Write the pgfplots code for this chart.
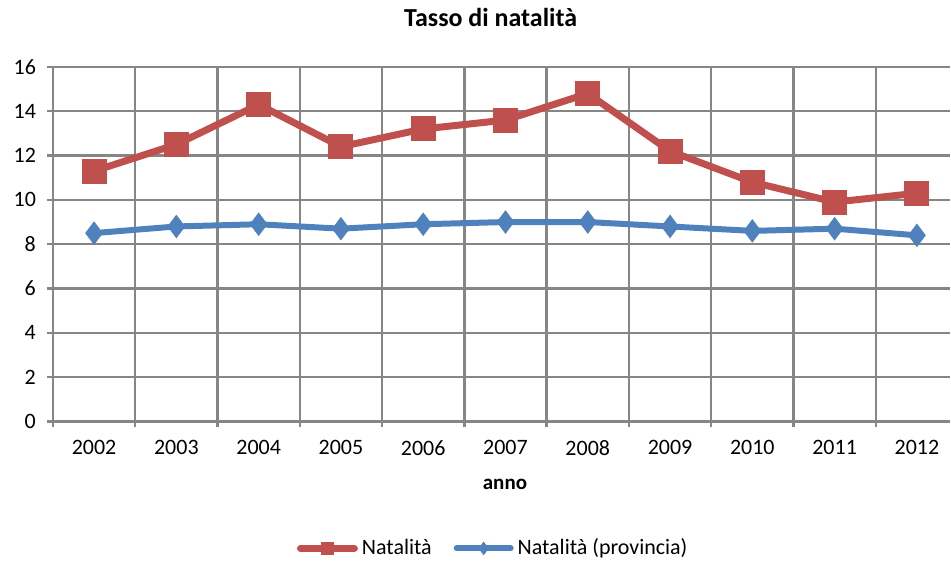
\documentclass[border=0pt]{standalone}
\usepackage{pgfplots}
\pgfplotsset{compat=1.18}
\usepackage{fontspec}
\setmainfont{Carlito}
\definecolor{cred}{RGB}{192,80,77}
\definecolor{cblue}{RGB}{79,129,189}
\definecolor{cgrid}{RGB}{134,134,134}
\begin{document}
\begin{tikzpicture}
\begin{axis}[
  scale only axis,
  width=449pt, height=177.5pt,
  xmin=-0.5, xmax=10.4,
  ymin=0, ymax=16,
  xtick={0,...,10},
  xticklabels={2002,2003,2004,2005,2006,2007,2008,2009,2010,2011,2012},
  minor xtick={-0.5,0.5,...,9.5},
  ytick={0,2,...,16},
  axis lines=left,
  axis line style={-, draw=cgrid, line width=1.2pt},
  ymajorgrids, xminorgrids,
  grid style={draw=cgrid, line width=1.2pt},
  minor grid style={draw=cgrid, line width=1.2pt},
  tick align=outside,
  major x tick style={draw=none},
  minor x tick style={draw=cgrid, line width=1.2pt},
  major y tick style={draw=cgrid, line width=1.2pt},
  major tick length=3pt, minor tick length=3pt,
  /pgf/number format/assume math mode=true,
  tick label style={font=\fontsize{11}{13}\selectfont, black},
  yticklabel style={xshift=-2pt},
  xticklabel style={yshift=-3pt},
  xlabel={\textbf{anno}},
  xlabel style={font=\fontsize{10.5}{12}\selectfont, at={(rel axis cs:0.504,0)}, anchor=center, yshift=-31.5pt},
  title={\textbf{Tasso di natalità}},
  title style={font=\fontsize{13}{15}\selectfont, at={(rel axis cs:0.488,1)}, anchor=center, yshift=18.5pt},
  legend columns=2,
  legend style={draw=none, at={(rel axis cs:0.492,-0.358)}, anchor=center,
    font=\fontsize{11}{13}\selectfont, /tikz/every even column/.append style={column sep=9pt}},
  legend image code/.code={\draw[#1, line cap=round, mark size=3pt, mark repeat=2, mark phase=2] plot coordinates {(0pt,0pt) (13.5pt,0pt) (27pt,0pt)};},
  clip=false,
]
\addplot[cred, line width=3.5pt, mark=square*, mark size=6pt, mark options={solid, fill=cred, draw=cred, line width=0.5pt}]
coordinates {(0,11.3)(1,12.5)(2,14.3)(3,12.4)(4,13.2)(5,13.6)(6,14.8)(7,12.2)(8,10.8)(9,9.9)(10,10.3)};
\addlegendentry{Natalità}
\addplot[cblue, line width=3pt, mark=diamond*, mark size=5.5pt, mark options={solid, fill=cblue, draw=cblue, line width=0.5pt}]
coordinates {(0,8.5)(1,8.8)(2,8.9)(3,8.7)(4,8.9)(5,9.0)(6,9.0)(7,8.8)(8,8.6)(9,8.7)(10,8.4)};
\addlegendentry{Natalità (provincia)}
\end{axis}
\path ([xshift=-26.5pt,yshift=-70pt]current axis.south west) rectangle ([yshift=33.5pt]current axis.north east);
\end{tikzpicture}
\end{document}
